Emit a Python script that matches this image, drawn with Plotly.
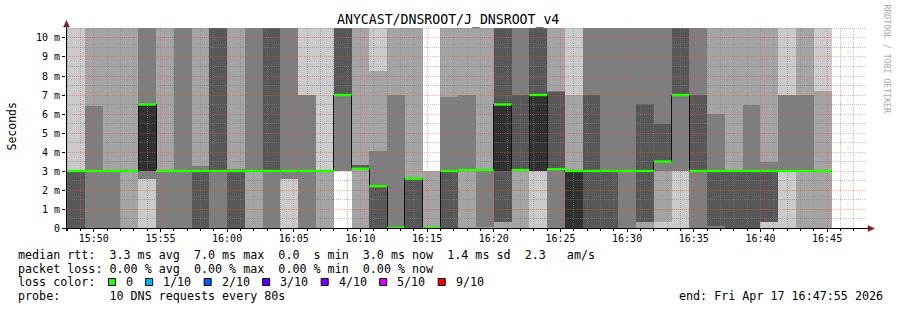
import plotly.graph_objects as go
from datetime import datetime, timedelta

OVER = 11.0  # ping reading above the top of the chart (clipped)

# ten sorted ping times (ms) for each 80 s step, 43 steps
rtt_1 = [0, 0, 0, 0, 0, 0, 0, 0, 0, 0, 0, 0, 0, 0, 0, 3, 0, 0, 0, 0, 0, 0, 0, 0, 0, 0, 0, 0, 0, 0, 0, 0, 0, 0, 0, 0, 0, 0, 0, 0, 0, 0, 0]
rtt_2 = [0, 0, 0, 0, 2.58, 0, 0, 0, 0, 0, 0, 0, 2.58, 0, 0, 3, 0, 0, 0, 0, 0, 0, 0, 0, 0, 0, 3, 0, 0, 0, 0, 0, 0, 0.33, 3, 0, 0, 0, 0, 0.33, 3, 0, 0]
rtt_3 = [0, 0, 0, 3, 2.58, 0, 0, 0, 0, 0, 3, 0, 2.58, 0, 3, 3, 3.1, 0, 0, 0, 0, 0, 3, 0.05, 0.33, 3, 3, 0, 0, 0, 0, 0, 0.33, 3, 3, 0, 0, 0, 0, 0.33, 3, 3, 3]
rtt_4 = [0, 3, 3, 3, 3, 3, 3, 0, 3, 0, 3, 3, 3, 3, 3, 7.0, 3.1, 0, 0, 0, 0, 0, 3, 3, 0.33, 3, 3, 3.1, 0, 0, 0, 3, 0.33, 3.5, 7.0, 3, 0.1, 0, 0, 0.33, 3, 3, 3]
rtt_5 = [3, 3, 3, 3, 3, 3, 3, 3, 3, 3, 3, 3, 3, 3, 3, OVER, 3.1, 2.2, 0, 2.6, 0, 3, 3, 3, 3, 3, 3, 3.1, 0, 3, 3, 3, 3, 3.5, OVER, 3, 3, 3, 3, 3, 3, 3, 3]
rtt_6 = [3, 3, 3, 3, 6.5, 3, 3, 3, 3, 3, 3, 3, 3, 3, 3, OVER, 3.1, 2.2, 0, 2.6, 0, 3, 3, 3, 6.5, 3, 7.0, 3.1, 3, 3, 3, 3, 3, 3.5, OVER, 3, 3, 3, 3, 3, 3, 3, 3]
rtt_7 = [3, 3, 3, 3, 6.5, 3, 3, 3, OVER, 3, 3, OVER, 3, 3, 3, OVER, 3.32, 2.2, 0, 2.6, 0, 3, 3, 3, OVER, 7.0, OVER, 7.15, 3, 7.0, 3, 3, 6.53, 5.47, OVER, 7.0, 3, 3, 3, 3, 3, 3, 3]
rtt_8 = [3, 6.42, 3, 3, OVER, 3, OVER, 3.26, OVER, 3.1, OVER, OVER, OVER, 7.0, 3, OVER, 3.32, 4.05, 7.0, 2.6, 0, 6.91, 7.0, 3.1, OVER, OVER, OVER, 7.23, 3, OVER, OVER, OVER, OVER, OVER, OVER, OVER, 6.0, 3, 6.47, 3.49, 7.0, 7.0, 3]
rtt_9 = [3, OVER, OVER, OVER, OVER, OVER, OVER, OVER, OVER, OVER, OVER, OVER, OVER, 7.0, 3, OVER, OVER, 8.28, OVER, OVER, 3, OVER, OVER, OVER, OVER, OVER, OVER, OVER, 7.0, OVER, OVER, OVER, OVER, OVER, OVER, OVER, OVER, OVER, OVER, OVER, 7.0, OVER, 7.23]
rtt_10 = [OVER, OVER, OVER, OVER, OVER, OVER, OVER, OVER, OVER, OVER, OVER, OVER, OVER, OVER, OVER, OVER, OVER, OVER, OVER, OVER, 3, OVER, OVER, OVER, OVER, OVER, OVER, OVER, OVER, OVER, OVER, OVER, OVER, OVER, OVER, OVER, OVER, OVER, OVER, OVER, OVER, OVER, OVER]

median_rtt = [3.0, 3.0, 3.0, 3.0, 6.5, 3.0, 3.0, 3.0, 3.0, 3.0, 3.0, 3.0, 3.0, 3.0, 3.0, 7.0, 3.12, 2.2, 0.0, 2.6, 0.0, 3.0, 3.05, 3.05, 6.5, 3.05, 7.0, 3.1, 3.0, 3.0, 3.0, 3.0, 3.0, 3.5, 7.0, 3.0, 3.0, 3.0, 3.0, 3.0, 3.0, 3.0, 3.0]

step_start = datetime(2026, 4, 17, 15, 48, 0)
step_seconds = 80
window_start = datetime(2026, 4, 17, 15, 47, 55)
window_end = datetime(2026, 4, 17, 16, 47, 55)
y_range = [0, 10.526]
grid_top = 10.5

y_tick_values = [0, 1, 2, 3, 4, 5, 6, 7, 8, 9, 10]
y_tick_labels = ["0", "1 m", "2 m", "3 m", "4 m", "5 m", "6 m", "7 m", "8 m", "9 m", "10 m"]

loss_labels = ["0", "1/10", "2/10", "3/10", "4/10", "5/10", "9/10"]
loss_colors = ["#26ff00", "#00b8ff", "#0059ff", "#5e00ff", "#7e00ff", "#dd00ff", "#ff0000"]
smoke_grays = ["#cacaca", "#a4a4a4", "#7e7e7e", "#585858", "#323232"]

title_text = "ANYCAST/DNSROOT/J_DNSROOT_v4"
legend_lines = [
    "median rtt:  3.3 ms avg  7.0 ms max  0.0  s min  3.0 ms now  1.4 ms sd  2.3   am/s",
    "packet loss: 0.00 % avg  0.00 % max  0.00 % min  0.00 % now",
    "loss color:",
    "probe:       10 DNS requests every 80s",
]
end_text = "end: Fri Apr 17 16:47:55 2026"
watermark = "RRDTOOL / TOBI OETIKER"

MONO = "DejaVu Sans Mono"
W, H = 897, 310
PL, PR, PT, PB = 66, 866, 28, 228


def px(x):
    return (x - PL) / (PR - PL)


def py(y):
    return (PB - y) / (PB - PT)


def nb(s):
    return s.replace(" ", "\u00a0")


rtts = [rtt_1, rtt_2, rtt_3, rtt_4, rtt_5, rtt_6, rtt_7, rtt_8, rtt_9, rtt_10]
n = len(median_rtt)
edges = [step_start + timedelta(seconds=step_seconds * k) for k in range(n + 1)]

fig = go.Figure()

# smoke: band between i-th fastest and i-th slowest ping, darker towards the middle
for i in range(5):
    lo, hi = rtts[i], rtts[9 - i]
    xs, ys = [], []
    for k in range(n):
        xs += [edges[k], edges[k + 1]]
        ys += [hi[k], hi[k]]
    for k in reversed(range(n)):
        xs += [edges[k + 1], edges[k]]
        ys += [lo[k], lo[k]]
    fig.add_trace(go.Scatter(x=xs, y=ys, mode="lines", fill="toself",
                             fillcolor=smoke_grays[i], line=dict(width=0),
                             hoverinfo="skip"))

# grid (drawn over the smoke like rrdtool)
gx_min, gy_min, gx_maj, gy_maj = [], [], [], []
t = datetime(2026, 4, 17, 15, 48)
while t <= window_end:
    if t.minute % 5 == 0:
        gx_maj += [t, t, None]; gy_maj += [0, grid_top + 0.1, None]
    else:
        gx_min += [t, t, None]; gy_min += [0, grid_top + 0.1, None]
    t += timedelta(minutes=1)
hx_min, hy_min, hx_maj, hy_maj = [], [], [], []
for j in range(1, 22):
    v = j * 0.5
    if v > grid_top:
        break
    if j % 2 == 0:
        hx_maj += [window_start, window_end, None]; hy_maj += [v, v, None]
    else:
        hx_min += [window_start, window_end, None]; hy_min += [v, v, None]
GRID = "rgba(128,128,128,0.5)"
MGRID = "rgba(255,70,70,0.42)"
for gx, gy, col in [(gx_min, gy_min, GRID), (hx_min, hy_min, GRID),
                    (gx_maj, gy_maj, MGRID), (hx_maj, hy_maj, MGRID)]:
    fig.add_trace(go.Scatter(x=gx, y=gy, mode="lines", line=dict(color=col, width=1, dash="1px,1px"),
                             hoverinfo="skip"))

# median: dark step line + loss-coloured segments
sx, sy, mx, my = [], [], [], []
for k in range(n):
    sx += [edges[k], edges[k + 1]]
    sy += [median_rtt[k], median_rtt[k]]
    mx += [edges[k], edges[k + 1], None]
    my += [median_rtt[k], median_rtt[k], None]
fig.add_trace(go.Scatter(x=sx, y=sy, mode="lines", line=dict(color="#141414", width=1),
                         hoverinfo="skip"))
fig.add_trace(go.Scatter(x=mx, y=my, mode="lines", line=dict(color=loss_colors[0], width=2.4),
                         hoverinfo="skip"))

shapes = []
# axis lines and arrows
shapes.append(dict(type="line", xref="paper", yref="paper", x0=px(63), x1=px(869), y0=py(228.5), y1=py(228.5),
                   line=dict(color="#000000", width=1), layer="above"))
shapes.append(dict(type="line", xref="paper", yref="paper", x0=px(66.5), x1=px(66.5), y0=py(231), y1=py(26),
                   line=dict(color="#000000", width=1), layer="above"))
arrow_col = "#7f1f1f"
shapes.append(dict(type="path", xref="paper", yref="paper", layer="above",
                   path="M {} {} L {} {} L {} {} Z".format(px(66.5), py(20.5), px(63.5), py(27), px(69.5), py(27)),
                   fillcolor=arrow_col, line=dict(color=arrow_col, width=0.5)))
shapes.append(dict(type="path", xref="paper", yref="paper", layer="above",
                   path="M {} {} L {} {} L {} {} Z".format(px(874.5), py(228.5), px(868), py(225.5), px(868), py(231.5)),
                   fillcolor=arrow_col, line=dict(color=arrow_col, width=0.5)))

annotations = []
annotations.append(dict(text=title_text, xref="paper", yref="paper", x=px(448), y=py(19.5),
                        xanchor="center", yanchor="middle", showarrow=False,
                        font=dict(family=MONO, size=13.2, color="#000000")))
annotations.append(dict(text="Seconds", xref="paper", yref="paper", x=px(11.5), y=py(126),
                        xanchor="center", yanchor="middle", showarrow=False, textangle=-90,
                        font=dict(family=MONO, size=11.5, color="#000000")))
annotations.append(dict(text=watermark, xref="paper", yref="paper", x=px(886.5), y=py(59),
                        xanchor="center", yanchor="middle", showarrow=False, textangle=90,
                        font=dict(family=MONO, size=8.2, color="#a8a8a8")))
line_y = [255, 268.5, 282, 295.5]
LF = 11.7
for txt, yy in zip(legend_lines, line_y):
    annotations.append(dict(text=nb(txt), xref="paper", yref="paper", x=px(16), y=py(yy),
                            xanchor="left", yanchor="middle", showarrow=False,
                            font=dict(family=MONO, size=LF, color="#000000")))
annotations.append(dict(text=nb(end_text), xref="paper", yref="paper", x=px(677), y=py(line_y[3]),
                        xanchor="left", yanchor="middle", showarrow=False,
                        font=dict(family=MONO, size=LF, color="#000000")))
cursor = 108
for lab, col in zip(loss_labels, loss_colors):
    shapes.append(dict(type="rect", xref="paper", yref="paper", x0=px(cursor + 0.5), x1=px(cursor + 7.5),
                       y0=py(line_y[2] + 3.5), y1=py(line_y[2] - 3.5), fillcolor=col,
                       line=dict(color="#000000", width=1), layer="above"))
    lx = cursor + 16
    annotations.append(dict(text=nb(lab), xref="paper", yref="paper", x=px(lx), y=py(line_y[2]),
                            xanchor="left", yanchor="middle", showarrow=False,
                            font=dict(family=MONO, size=LF, color="#000000")))
    cursor = lx + len(lab) * 7.13 + 14

fig.update_layout(
    width=W, height=H,
    margin=dict(l=PL, r=W - PR, t=PT, b=H - PB, pad=0),
    paper_bgcolor="#ffffff", plot_bgcolor="#ffffff",
    showlegend=False,
    shapes=shapes, annotations=annotations,
    xaxis=dict(type="date", range=[window_start, window_end], showgrid=False, zeroline=False,
               showline=False, tickformat="%H:%M", dtick=300000, tick0="2026-04-17 15:50:00",
               ticks="outside", ticklen=3, tickcolor="#000000", tickwidth=1, ticklabelstandoff=-2,
               minor=dict(dtick=60000, tick0="2026-04-17 15:48:00", ticks="outside", ticklen=2,
                          tickcolor="#000000", showgrid=False),
               tickfont=dict(family=MONO, size=10, color="#000000"), fixedrange=True),
    yaxis=dict(range=y_range, showgrid=False, zeroline=False, showline=False,
               tickvals=y_tick_values, ticktext=[nb(s) for s in y_tick_labels],
               ticks="outside", ticklen=3, tickcolor="#000000", tickwidth=1,
               tickfont=dict(family=MONO, size=10, color="#000000"), fixedrange=True),
)

post = """
var gd = document.getElementById('{plot_id}');
function crisp(){
  var tr = gd.querySelectorAll('.scatterlayer .trace');
  for (var i = 0; i < tr.length && i < 10; i++) {
    tr[i].querySelectorAll('path').forEach(function(e){ e.style.shapeRendering = 'crispEdges'; });
  }
}
crisp();
gd.on('plotly_afterplot', crisp);
"""
fig.write_html("out.html", config={"displayModeBar": False}, post_script=post)
